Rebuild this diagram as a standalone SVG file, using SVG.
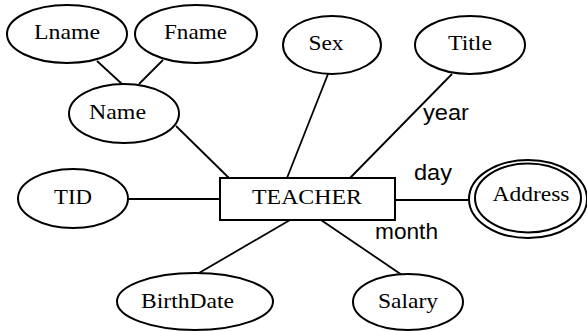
<svg xmlns="http://www.w3.org/2000/svg" width="587" height="331" viewBox="0 0 587 331">
<style>
.e{fill:#fff;stroke:#000;stroke-width:2}
.t{font-family:"Liberation Serif","Times New Roman",serif;font-size:22px;fill:#000;text-anchor:middle}
.s{font-family:"Liberation Sans",Arial,sans-serif;font-size:22.5px;fill:#000}
.c line{stroke:#000;stroke-width:1.8}
</style>
<rect width="587" height="331" fill="#fff"/>
<g class="c" id="connectors">
<line x1="97" y1="61" x2="122" y2="84"/>
<line x1="163" y1="60" x2="139" y2="84"/>
<line x1="176" y1="126" x2="229" y2="178"/>
<line x1="328" y1="74" x2="287" y2="178"/>
<line x1="452" y1="74" x2="350" y2="178"/>
<line x1="128" y1="199" x2="220" y2="199"/>
<line x1="395" y1="200" x2="468" y2="200"/>
<line x1="290" y1="220" x2="199" y2="273"/>
<line x1="321" y1="220" x2="402" y2="275"/>
</g>
<g id="lname"><ellipse class="e" cx="67" cy="34" rx="60" ry="29"/><text class="t" x="67" y="39" textLength="66" lengthAdjust="spacingAndGlyphs">Lname</text></g>
<g id="fname"><ellipse class="e" cx="196" cy="34" rx="61" ry="29"/><text class="t" x="195.5" y="39" textLength="63" lengthAdjust="spacingAndGlyphs">Fname</text></g>
<g id="name"><ellipse class="e" cx="124" cy="113.5" rx="55" ry="29.5"/><text class="t" x="117.5" y="119" textLength="57" lengthAdjust="spacingAndGlyphs">Name</text></g>
<g id="sex"><ellipse class="e" cx="332" cy="45" rx="49" ry="29"/><text class="t" x="326" y="50" textLength="35" lengthAdjust="spacingAndGlyphs">Sex</text></g>
<g id="title"><ellipse class="e" cx="470" cy="45" rx="55" ry="29"/><text class="t" x="470" y="50" textLength="44" lengthAdjust="spacingAndGlyphs">Title</text></g>
<g id="tid"><ellipse class="e" cx="73" cy="198.5" rx="55" ry="29.5"/><text class="t" x="73" y="204" textLength="38" lengthAdjust="spacingAndGlyphs">TID</text></g>
<g id="teacher"><rect x="220" y="178" width="175" height="42" fill="#fff" stroke="#000" stroke-width="2"/><text class="t" x="307" y="204" textLength="110" lengthAdjust="spacingAndGlyphs">TEACHER</text></g>
<g id="address"><ellipse class="e" cx="528" cy="199" rx="59" ry="39"/><ellipse class="e" cx="528" cy="198" rx="53" ry="34.5"/><text class="t" x="531" y="201" textLength="77" lengthAdjust="spacingAndGlyphs">Address</text></g>
<g id="birthdate"><ellipse class="e" cx="195" cy="301.5" rx="78" ry="28.5"/><text class="t" x="187.5" y="308" textLength="93" lengthAdjust="spacingAndGlyphs">BirthDate</text></g>
<g id="salary"><ellipse class="e" cx="408" cy="302" rx="55" ry="28"/><text class="t" x="408" y="308" textLength="60" lengthAdjust="spacingAndGlyphs">Salary</text></g>
<g id="labels">
<text class="s" x="423" y="120" textLength="46" lengthAdjust="spacingAndGlyphs">year</text>
<text class="s" x="414" y="180" textLength="38" lengthAdjust="spacingAndGlyphs">day</text>
<text class="s" x="375" y="239" textLength="63" lengthAdjust="spacingAndGlyphs">month</text>
</g>
</svg>
